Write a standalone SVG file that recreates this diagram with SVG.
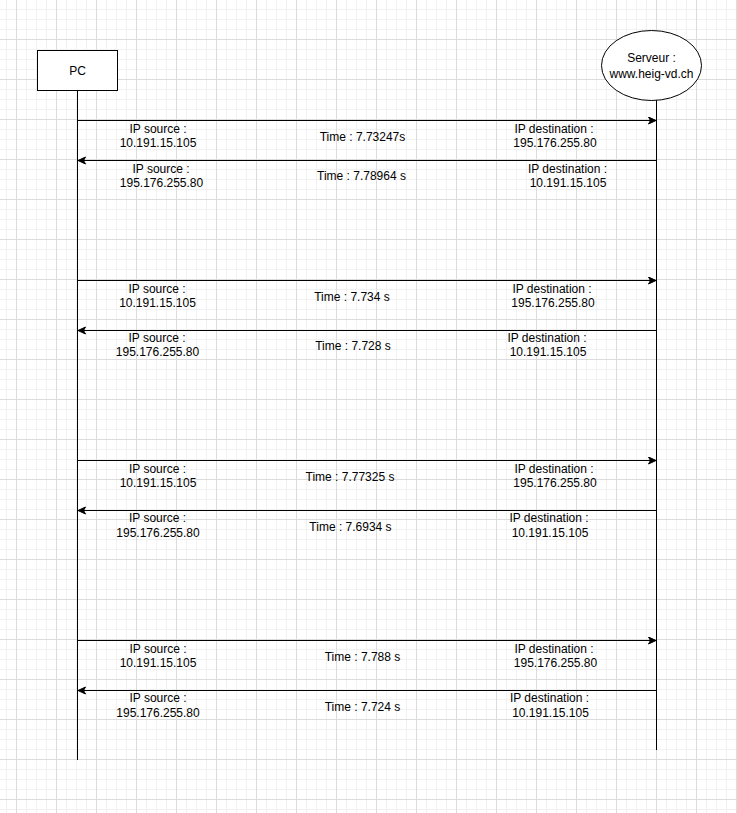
<svg xmlns="http://www.w3.org/2000/svg" width="737" height="813" viewBox="0 0 737 813">
<style>
.t{font-family:"Liberation Sans",Arial,Helvetica,sans-serif;font-size:12px;fill:#000;text-anchor:middle}
.ln{stroke:#000;stroke-width:1;fill:none}
.msg{stroke:#000;stroke-width:1;fill:none;marker-end:url(#arr)}
.shape{fill:#fff;stroke:#000;stroke-width:1}
</style>
<defs>
<pattern id="grid" patternUnits="userSpaceOnUse" x="16" y="0" width="40" height="40">
<path d="M10.5 0V40M20.5 0V40M30.5 0V40M0 9.5H40M0 19.5H40M0 29.5H40" stroke="#f1f1f1" stroke-width="1" fill="none"/>
<path d="M0.5 0V40M0 39.5H40" stroke="#dcdcdc" stroke-width="1" fill="none"/>
</pattern>
<marker id="arr" markerUnits="userSpaceOnUse" markerWidth="10" markerHeight="10" refX="8" refY="4" orient="auto">
<path d="M0.5,0.5 L8,4 L0.5,7.5 L2.5,4 Z" fill="#000" stroke="#000" stroke-width="1"/>
</marker>
</defs>
<rect width="737" height="813" fill="#fff"/>
<rect width="737" height="813" fill="url(#grid)"/>

<g id="lifelines">
<line class="ln" x1="77.5" y1="90" x2="77.5" y2="760"/>
<line class="ln" x1="656.5" y1="100" x2="656.5" y2="750"/>
</g>

<g id="pc">
<rect class="shape" x="37.5" y="50.5" width="80" height="40"/>
<text class="t" x="77.5" y="74.5">PC</text>
</g>

<g id="serveur">
<ellipse class="shape" cx="651.5" cy="65.5" rx="50" ry="35"/>
<text class="t" x="651.5" y="61.5">Serveur :</text>
<text class="t" x="651.5" y="77.5">www.heig-vd.ch</text>
</g>

<g id="connectors">
<line class="msg" x1="77.5" y1="120.5" x2="656" y2="120.5"/>
<line class="msg" x1="656.5" y1="160.5" x2="78" y2="160.5"/>
<line class="msg" x1="77.5" y1="280.5" x2="656" y2="280.5"/>
<line class="msg" x1="656.5" y1="330.5" x2="78" y2="330.5"/>
<line class="msg" x1="77.5" y1="460.5" x2="656" y2="460.5"/>
<line class="msg" x1="656.5" y1="510.5" x2="78" y2="510.5"/>
<line class="msg" x1="77.5" y1="640.5" x2="656" y2="640.5"/>
<line class="msg" x1="656.5" y1="690.5" x2="78" y2="690.5"/>
</g>

<g id="labels1">
<text class="t" x="158" y="132.5">IP source :</text>
<text class="t" x="158" y="146.5">10.191.15.105</text>
<text class="t" x="362.5" y="140.5">Time : 7.73247s</text>
<text class="t" x="554" y="132.5">IP destination :</text>
<text class="t" x="555" y="146.5">195.176.255.80</text>
</g>
<g id="labels2">
<text class="t" x="161" y="172.5">IP source :</text>
<text class="t" x="161.5" y="187">195.176.255.80</text>
<text class="t" x="361.5" y="180">Time : 7.78964 s</text>
<text class="t" x="567.5" y="172.5">IP destination :</text>
<text class="t" x="568" y="187">10.191.15.105</text>
</g>
<g id="labels3">
<text class="t" x="157" y="292.5">IP source :</text>
<text class="t" x="157.5" y="306.5">10.191.15.105</text>
<text class="t" x="352" y="300.5">Time : 7.734 s</text>
<text class="t" x="552" y="292.5">IP destination :</text>
<text class="t" x="553" y="306.5">195.176.255.80</text>
</g>
<g id="labels4">
<text class="t" x="157" y="342">IP source :</text>
<text class="t" x="157.5" y="356">195.176.255.80</text>
<text class="t" x="353" y="349.5">Time : 7.728 s</text>
<text class="t" x="547" y="342">IP destination :</text>
<text class="t" x="548" y="356">10.191.15.105</text>
</g>
<g id="labels5">
<text class="t" x="157.5" y="472.5">IP source :</text>
<text class="t" x="158" y="486.5">10.191.15.105</text>
<text class="t" x="350" y="480.5">Time : 7.77325 s</text>
<text class="t" x="554" y="472.5">IP destination :</text>
<text class="t" x="555" y="486.5">195.176.255.80</text>
</g>
<g id="labels6">
<text class="t" x="157.5" y="522">IP source :</text>
<text class="t" x="158" y="536.5">195.176.255.80</text>
<text class="t" x="350.5" y="530.5">Time : 7.6934 s</text>
<text class="t" x="549" y="522">IP destination :</text>
<text class="t" x="550" y="536.5">10.191.15.105</text>
</g>
<g id="labels7">
<text class="t" x="158" y="652.5">IP source :</text>
<text class="t" x="158" y="666.5">10.191.15.105</text>
<text class="t" x="362.5" y="660.5">Time : 7.788 s</text>
<text class="t" x="554" y="652.5">IP destination :</text>
<text class="t" x="555.5" y="666.5">195.176.255.80</text>
</g>
<g id="labels8">
<text class="t" x="158" y="702">IP source :</text>
<text class="t" x="158" y="716.5">195.176.255.80</text>
<text class="t" x="362.5" y="710.5">Time : 7.724 s</text>
<text class="t" x="549.5" y="702">IP destination :</text>
<text class="t" x="550.5" y="716.5">10.191.15.105</text>
</g>
</svg>
